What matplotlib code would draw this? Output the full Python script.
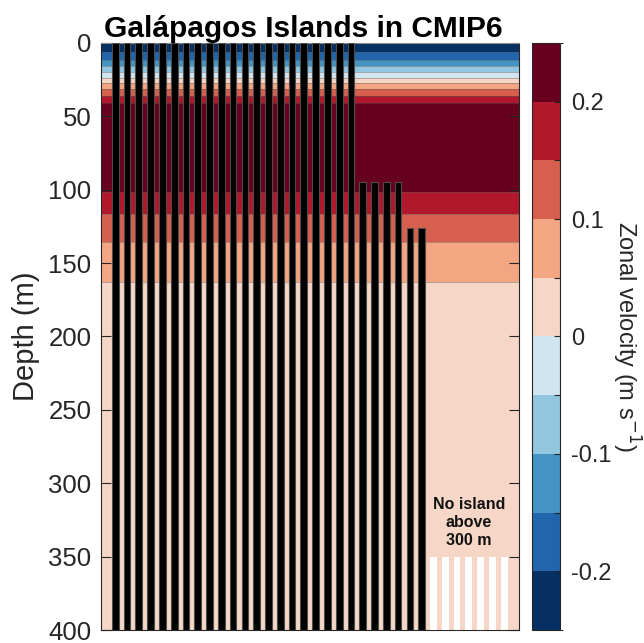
import numpy as np
import matplotlib
matplotlib.use('Agg')
import matplotlib.pyplot as plt
from matplotlib.colors import ListedColormap, BoundaryNorm

plt.rcParams['font.family'] = ['Liberation Sans', 'DejaVu Sans']

# velocity profile (band edges in m, value in each band, m/s)
dubina_granice = [0, 6, 11.6, 16, 20, 24, 27.5, 31.3, 36, 41, 101.7, 116.5, 135.4, 163, 400]
brzina = [-0.23, -0.18, -0.13, -0.08, -0.03, 0.02, 0.07, 0.12, 0.17, 0.23, 0.17, 0.12, 0.07, 0.02]

# depth of island top for each model (None = no island above 300 m)
vrh_ostrva = [0, 0, 0, 0, 0, 0, 0, 0, 0, 0, 0, 0, 0, 0, 0, 0, 0, 0, 0, 0, 0,
              95, 95, 95, 95, 126, 126,
              None, None, None, None, None, None, None]
donja_granica = 400
bez_ostrva_vrh = 350  # white bars for models without island

boje = ['#053061', '#2166ac', '#4393c3', '#92c5de', '#d1e5f0',
        '#f6d6c6', '#f4a582', '#d6604d', '#b2182b', '#67001f']
nivoi = np.arange(-0.25, 0.2501, 0.05)
cmap = ListedColormap(boje)
norm = BoundaryNorm(nivoi, cmap.N)

fig = plt.figure(figsize=(6.44, 6.43), dpi=100)
ax = fig.add_axes([0.1568, 0.0202, 0.649, 0.913])
cax = fig.add_axes([0.826, 0.0202, 0.0435, 0.913])

N = len(vrh_ostrva)
x_lim = (-0.21, N + 1.25)
xe = np.array(x_lim)
ye = np.array(dubina_granice)
C = np.array(brzina).reshape(-1, 1)
pc = ax.pcolormesh(xe, ye, C, cmap=cmap, norm=norm, shading='flat')
ax.hlines(dubina_granice[1:-1], x_lim[0], x_lim[1], color='0.35', lw=0.5, alpha=0.6)

x = np.arange(1, N + 1)
for i, v in enumerate(vrh_ostrva):
    if v is None:
        ax.bar(x[i], donja_granica - bez_ostrva_vrh, bottom=bez_ostrva_vrh, width=0.57,
               color='white', edgecolor='none', zorder=3)
    else:
        ax.bar(x[i], donja_granica - v, bottom=v, width=0.57,
               color='black', edgecolor='0.3', linewidth=0.8, zorder=3)

bez = x[[v is None for v in vrh_ostrva]]
ax.text(bez.mean(), 327, 'No island\nabove\n300 m', ha='center', va='center',
        fontsize=11.5, fontweight='bold', linespacing=1.25, color='#111111', zorder=4)

ax.set_xlim(*x_lim)
ax.set_ylim(400, 0)
ax.set_xticks([])
ax.set_yticks(np.arange(0, 401, 50))
ax.tick_params(axis='y', direction='in', length=7, width=0.8, right=True,
               labelsize=18.5, colors='#262626', pad=7)
for s in ax.spines.values():
    s.set_color('#262626')
    s.set_linewidth(0.8)
ax.spines['top'].set_color('0.55')
ax.set_ylabel('Depth (m)', fontsize=21, color='#262626', labelpad=6)
ax.set_title('Galápagos Islands in CMIP6', fontsize=21.5, fontweight='bold', pad=4, x=0.483)

cb = fig.colorbar(pc, cax=cax, ticks=nivoi[1:-1])
cb.ax.set_yticklabels(['-0.2', '', '-0.1', '', '0', '', '0.1', '', '0.2'])
cb.ax.tick_params(direction='in', length=4, width=0.8, labelsize=17, colors='#262626', pad=8)
cb.outline.set_edgecolor('#262626')
cb.outline.set_linewidth(0.8)
cb.set_label('Zonal velocity (m s$^{-1}$)', rotation=270, fontsize=17, color='#262626', labelpad=22)

fig.savefig('out.png', dpi=100)
